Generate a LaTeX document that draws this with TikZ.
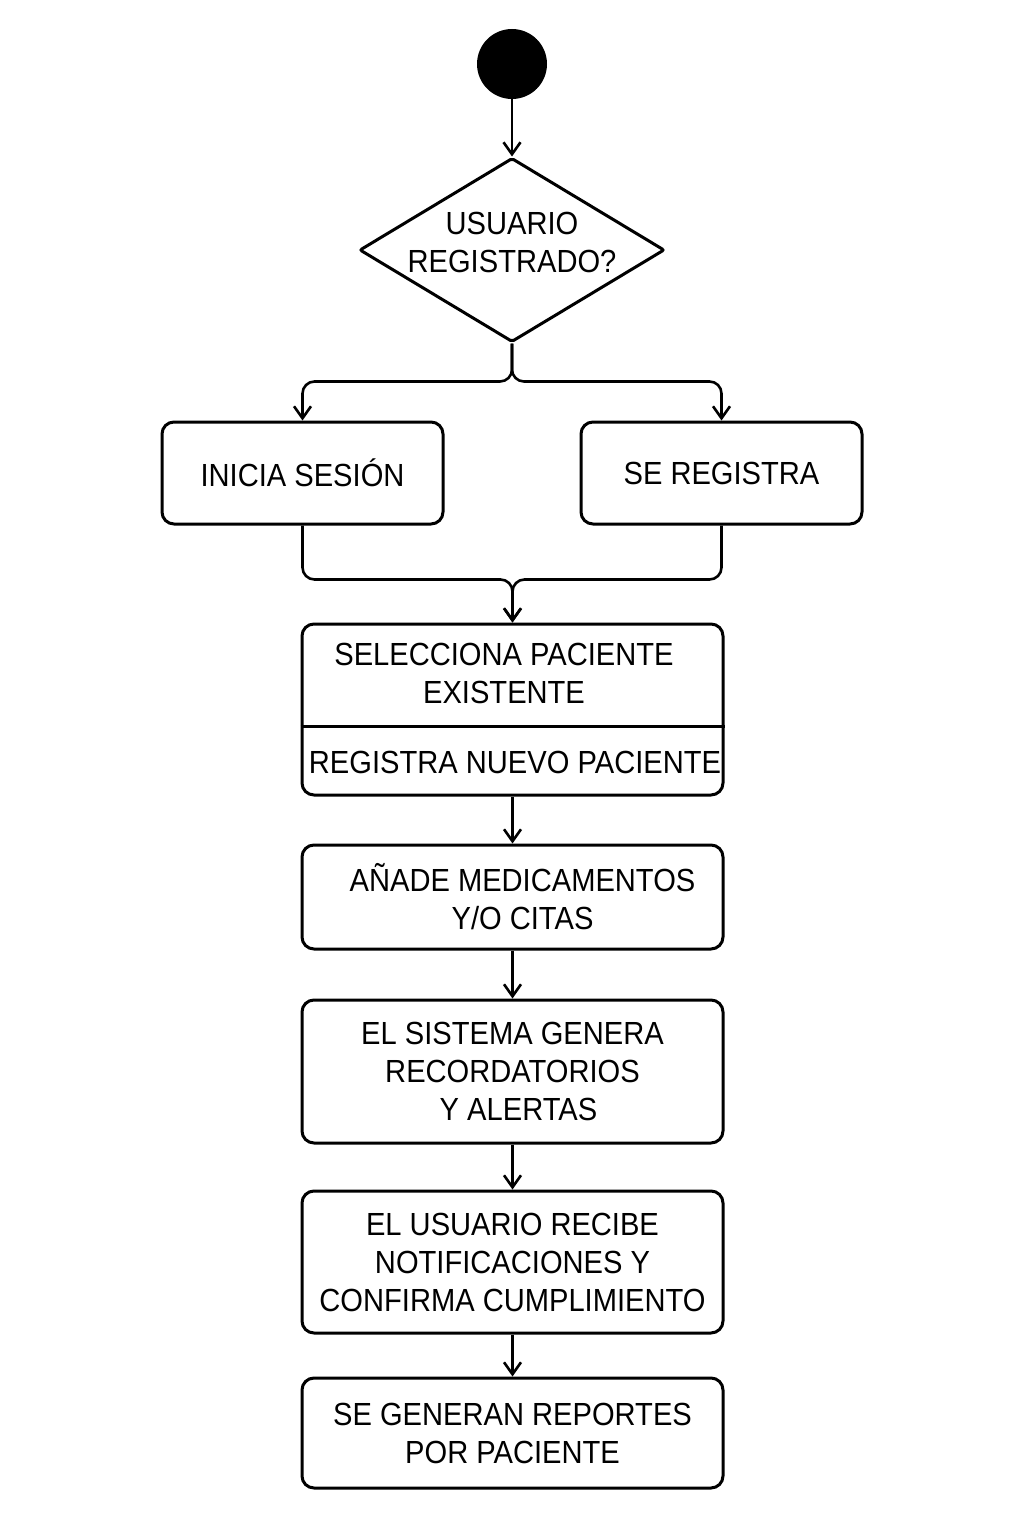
\documentclass[tikz,border=0pt]{standalone}
\usepackage{fontspec}
\setmainfont{Liberation Sans}[FakeStretch=0.91]
\usetikzlibrary{shapes.geometric,arrows.meta,positioning}

\tikzset{
  box/.style={draw, line width=3pt, rounded corners=12pt, minimum width=421pt, align=center, inner sep=0pt},
  decision/.style={draw, diamond, line width=3pt, minimum width=305pt, minimum height=184pt, inner sep=0pt, rounded corners=2pt},
  arr/.style={-{Straight Barb[length=12pt,width=17pt]}, line width=2.6pt},
}

\begin{document}
\begin{tikzpicture}[x=1pt, y=-1pt, font=\fontsize{32}{38}\selectfont]
    \useasboundingbox (0,0) rectangle (1024,1536);

    % Start
    \node[circle, fill=black, minimum size=70pt, inner sep=0pt] (start) at (512,64) {};

    % Decision
    \node[decision, label={[align=center, yshift=8pt]center:USUARIO\\REGISTRADO?}] (reg) at (512,250) {};

    % Two branches
    \node[box, minimum width=281pt, minimum height=102pt] (ini) at (302.5,473) {INICIA SESIÓN};
    \node[box, minimum width=281pt, minimum height=102pt] (regis) at (721.5,473) {SE REGISTRA};

    % Patient box (two parts)
    \node[box, minimum height=171pt] (sel) at (512.5,709.5) {};
    \node (selA) at (504,673.5) [align=center] {SELECCIONA PACIENTE\\EXISTENTE};
    \node (selB) at (515,762) {REGISTRA NUEVO PACIENTE};
    \draw[line width=3pt] (sel.west |- 0,726) -- (sel.east |- 0,726);

    % Main steps
    \node[box, minimum height=104pt] (med) at (512.5,897) {\hspace*{20pt}AÑADE MEDICAMENTOS\\\hspace*{20pt}Y/O CITAS};
    \node[box, minimum height=143pt] (alert) at (512.5,1071.5) {EL SISTEMA GENERA\\RECORDATORIOS\\\hspace*{12pt}Y ALERTAS};
    \node[box, minimum height=142pt] (notif) at (512.5,1262) {EL USUARIO RECIBE\\NOTIFICACIONES Y\\CONFIRMA CUMPLIMIENTO};
    \node[box, minimum height=110pt] (rep) at (512.5,1433) {SE GENERAN REPORTES\\POR PACIENTE};

    % Connectors
    \draw[arr] (start) -- (reg.north);
    \draw[arr, rounded corners=12pt] (reg.south) -- ++(0,38) -| (ini.north);
    \draw[arr, rounded corners=12pt] (reg.south) -- ++(0,38) -| (regis.north);
    \draw[arr, rounded corners=12pt] (ini.south) -- ++(0,54) -| (sel.north);
    \draw[arr, rounded corners=12pt] (regis.south) -- ++(0,54) -| (sel.north);
    \draw[arr] (sel) -- (med);
    \draw[arr] (med) -- (alert);
    \draw[arr] (alert) -- (notif);
    \draw[arr] (notif) -- (rep);
\end{tikzpicture}
\end{document}
